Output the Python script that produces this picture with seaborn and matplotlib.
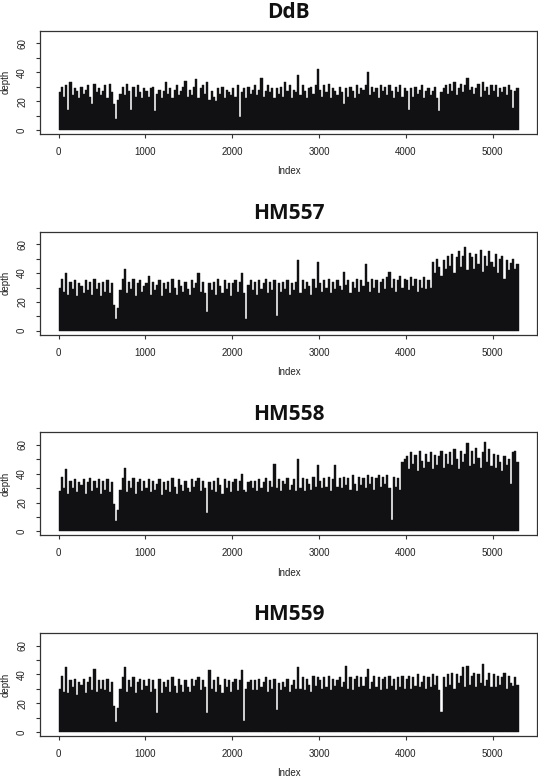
import numpy as np
import matplotlib
matplotlib.use("Agg")
import matplotlib.pyplot as plt
import seaborn as sns
from matplotlib.ticker import FixedLocator, FuncFormatter

sns.set_style("white")
plt.rcParams["font.family"] = ["Liberation Sans", "DejaVu Sans"]

# ---- data: depth per 25-position window ----
titles = ["DdB", "HM557", "HM558", "HM559"]
bin_size = 25

ddb = [26, 30, 23, 31, 14, 33, 24, 29, 27, 22,
       30, 25, 28, 31, 23, 18, 32, 26, 29, 24,
       27, 31, 22, 32, 26, 18, 8, 21, 25, 30,
       24, 32, 27, 14, 30, 23, 31, 26, 22, 29,
       27, 23, 29, 30, 13, 25, 28, 22, 27, 33,
       25, 29, 22, 28, 31, 24, 27, 30, 34, 23,
       28, 24, 30, 35, 22, 29, 31, 25, 33, 21,
       27, 23, 20, 29, 25, 30, 22, 28, 26, 24,
       29, 23, 31, 9, 26, 29, 22, 30, 25, 28,
       31, 24, 28, 36, 23, 27, 31, 26, 29, 22,
       29, 25, 30, 23, 33, 27, 31, 22, 28, 26,
       38, 24, 31, 27, 22, 29, 30, 25, 31, 42,
       28, 23, 31, 26, 32, 22, 29, 27, 24, 30,
       26, 18, 29, 23, 30, 27, 22, 31, 25, 29,
       28, 31, 40, 24, 30, 26, 29, 22, 31, 27,
       30, 24, 31, 27, 22, 30, 26, 31, 23, 29,
       27, 14, 29, 23, 30, 25, 28, 31, 22, 27,
       29, 24, 27, 30, 22, 13, 26, 29, 31, 25,
       32, 27, 33, 24, 29, 32, 26, 31, 36, 28,
       30, 25, 29, 32, 23, 33, 27, 30, 24, 31,
       27, 31, 23, 29, 26, 30, 24, 31, 28, 15,
       27, 29]

hm557 = [30, 36, 27, 40, 25, 34, 29, 35, 24, 33,
         31, 26, 35, 28, 34, 25, 36, 29, 33, 24,
         34, 27, 35, 26, 33, 18, 8, 16, 28, 36,
         43, 26, 34, 29, 36, 24, 33, 35, 27, 31,
         33, 38, 25, 34, 28, 32, 35, 24, 33, 29,
         34, 26, 36, 30, 25, 35, 31, 27, 34, 29,
         25, 35, 30, 33, 40, 27, 34, 26, 13, 33,
         28, 34, 25, 36, 31, 26, 35, 29, 33, 24,
         33, 35, 27, 34, 40, 26, 8, 32, 35, 28,
         34, 25, 35, 29, 33, 36, 26, 34, 28, 35,
         10, 33, 27, 34, 29, 35, 25, 33, 28, 34,
         49, 26, 35, 29, 34, 31, 25, 36, 30, 48,
         33, 27, 35, 30, 36, 26, 34, 29, 35, 31,
         28, 41, 32, 35, 26, 34, 30, 36, 27, 35,
         31, 46, 34, 27, 36, 30, 35, 26, 34, 36,
         29, 37, 41, 30, 36, 27, 35, 38, 30, 36,
         35, 28, 37, 31, 36, 27, 35, 30, 37, 29,
         35, 30, 48, 40, 50, 44, 38, 49, 43, 52,
         45, 53, 40, 51, 55, 44, 52, 58, 42, 54,
         51, 43, 53, 46, 56, 41, 52, 45, 55, 48,
         44, 53, 40, 50, 52, 36, 49, 42, 47, 50,
         43, 46]

hm558 = [28, 38, 30, 43, 26, 35, 30, 36, 27, 34,
         32, 36, 26, 34, 37, 28, 35, 30, 36, 26,
         35, 29, 36, 27, 34, 19, 7, 15, 29, 37,
         44, 27, 35, 30, 37, 26, 34, 36, 28, 35,
         30, 36, 27, 35, 29, 33, 36, 25, 34, 29,
         35, 27, 37, 31, 26, 36, 32, 28, 35, 30,
         27, 36, 31, 35, 37, 28, 35, 30, 13, 34,
         29, 35, 27, 37, 32, 26, 36, 30, 35, 27,
         34, 36, 28, 35, 40, 29, 27, 34, 35, 30,
         35, 28, 36, 30, 34, 37, 27, 35, 31, 47,
         30, 36, 28, 35, 33, 37, 29, 32, 36, 28,
         50, 30, 37, 28, 36, 33, 29, 38, 31, 46,
         35, 30, 37, 31, 38, 28, 36, 46, 31, 37,
         30, 38, 32, 37, 29, 39, 33, 28, 38, 32,
         37, 30, 39, 33, 38, 29, 37, 39, 31, 38,
         33, 39, 30, 8, 38, 31, 37, 29, 48, 50,
         52, 43, 55, 47, 53, 42, 56, 49, 44, 54,
         48, 55, 43, 53, 46, 52, 56, 44, 54, 47,
         55, 46, 57, 50, 43, 56, 48, 54, 61, 45,
         56, 47, 58, 51, 44, 55, 62, 48, 57, 45,
         54, 44, 53, 48, 42, 52, 46, 50, 33, 55,
         56, 48]

hm559 = [30, 39, 28, 45, 27, 36, 31, 37, 26, 35,
         33, 37, 27, 35, 38, 29, 44, 28, 36, 30,
         36, 29, 37, 28, 35, 18, 7, 17, 30, 38,
         45, 28, 36, 31, 38, 27, 35, 37, 29, 36,
         32, 37, 28, 36, 30, 13, 37, 27, 35, 31,
         36, 28, 38, 32, 27, 37, 33, 28, 36, 31,
         28, 37, 32, 36, 38, 29, 36, 31, 13, 43,
         30, 36, 28, 38, 33, 27, 37, 31, 36, 28,
         35, 37, 29, 36, 43, 8, 30, 35, 36, 29,
         36, 29, 37, 31, 35, 38, 28, 36, 30, 37,
         15, 34, 29, 35, 31, 37, 28, 33, 36, 30,
         45, 30, 38, 29, 37, 33, 28, 39, 32, 38,
         36, 30, 38, 31, 39, 29, 37, 32, 36, 38,
         31, 35, 46, 30, 38, 29, 37, 39, 31, 38,
         32, 38, 44, 30, 35, 39, 31, 38, 29, 37,
         38, 30, 39, 32, 37, 29, 38, 31, 39, 30,
         37, 39, 30, 38, 32, 40, 31, 35, 39, 30,
         38, 31, 40, 33, 39, 29, 14, 38, 31, 40,
         33, 41, 30, 40, 34, 39, 45, 31, 46, 33,
         39, 41, 31, 40, 34, 47, 32, 36, 41, 31,
         40, 31, 39, 33, 38, 41, 30, 39, 34, 32,
         38, 33]

series = [ddb, hm557, hm558, hm559]
x_ticks = [0, 1000, 2000, 3000, 4000, 5000]
y_ticks = [0, 10, 20, 30, 40, 50, 60]
y_labels = [0, 20, 40, 60]

# ---- layout ----
W, H = 538, 777
fig = plt.figure(figsize=(W / 100, H / 100), dpi=100)
ax_left, ax_right = 40.3, 537.0
tops = [30.7, 231.7, 432.3, 633.0]
bottoms = [134.0, 334.7, 535.3, 736.0]
bar_color = "#111113"
edge = "#333333"

for title, vals, top, bot in zip(titles, series, tops, bottoms):
    ax = fig.add_axes([ax_left / W, 1 - bot / H, (ax_right - ax_left) / W, (bot - top) / H])
    pos = np.arange(len(vals)) * bin_size + bin_size // 2
    sns.barplot(x=pos, y=vals, native_scale=True, width=1.0, color=bar_color,
                saturation=1, linewidth=0.3, edgecolor=bar_color,
                errorbar=None, ax=ax)
    ax.set_xlim(-212, 5512)
    ax.set_ylim(-2.7, 68.7)
    ax.xaxis.set_major_locator(FixedLocator(x_ticks))
    ax.xaxis.set_major_formatter(FuncFormatter(lambda v, p: f"{int(v)}"))
    ax.yaxis.set_major_locator(FixedLocator(y_ticks))
    ax.yaxis.set_major_formatter(FuncFormatter(lambda v, p: f"{int(v)}" if int(v) in y_labels else ""))
    ax.tick_params(axis="both", which="major", direction="out", length=3, width=0.8,
                   color=edge, labelsize=7, labelcolor="#222222", pad=6.5,
                   bottom=True, left=True)
    for lab in ax.get_yticklabels():
        lab.set_rotation(90)
        lab.set_va("center")
    for s in ax.spines.values():
        s.set_visible(True)
        s.set_color(edge)
        s.set_linewidth(0.9)
    ax.set_xlabel("")
    ax.set_ylabel("")
    ax.set_title(title, fontfamily=["Open Sans", "DejaVu Sans"], fontweight="bold",
                 fontsize=15, pad=9, color="#111111")
    fig.text((ax_left + ax_right) / 2 / W, 1 - (bot + 37.5) / H, "Index",
             ha="center", va="center", fontsize=7, color="#222222")
    fig.text(5.5 / W, 1 - ((top + bot) / 2) / H, "depth", rotation=90,
             ha="center", va="center", fontsize=7, color="#222222")

fig.savefig("out.png", dpi=100)
